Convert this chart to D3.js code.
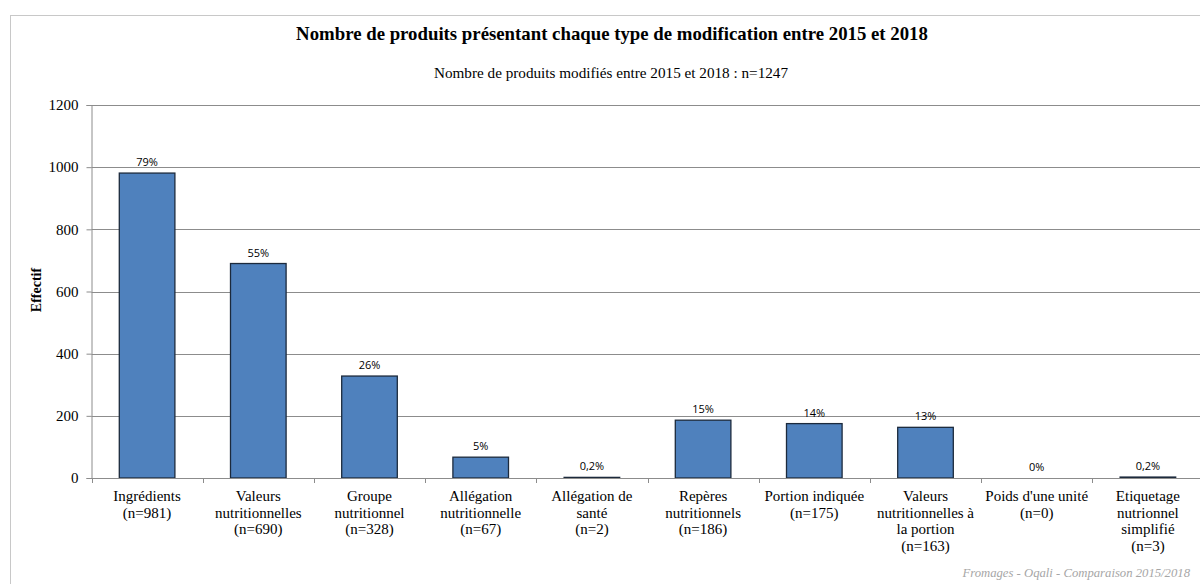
<!DOCTYPE html>
<html>
<head>
<meta charset="utf-8">
<script src="https://cdn.jsdelivr.net/npm/d3@7"></script>
<style>
  body { margin: 0; background: #fff; }
  svg text { font-family: "Liberation Serif", serif; fill: #000; }
</style>
</head>
<body>
<div id="chart-area"></div>
<script>

// Chart data
var categories = [
	["Ingrédients", "(n=981)"],
	["Valeurs", "nutritionnelles", "(n=690)"],
	["Groupe", "nutritionnel", "(n=328)"],
	["Allégation", "nutritionnelle", "(n=67)"],
	["Allégation de", "santé", "(n=2)"],
	["Repères", "nutritionnels", "(n=186)"],
	["Portion indiquée", "(n=175)"],
	["Valeurs", "nutritionnelles à", "la portion", "(n=163)"],
	["Poids d'une unité", "(n=0)"],
	["Etiquetage", "nutrionnel", "simplifié", "(n=3)"]
];
var counts = [981, 690, 328, 67, 2, 186, 175, 163, 0, 3];
var percentLabels = ["79%", "55%", "26%", "5%", "0,2%", "15%", "14%", "13%", "0%", "0,2%"];
var yTicks = [0, 200, 400, 600, 800, 1000, 1200];

// SVG Size
var width = 1200,
		height = 584;

var svg = d3.select("#chart-area").append("svg")
	.attr("width", width)
	.attr("height", height);

// chart border
svg.append("rect")
	.attr("x", 10.5)
	.attr("y", 15.5)
	.attr("width", 1200)
	.attr("height", 600)
	.attr("fill", "none")
	.attr("stroke", "#c8c8c8");

var plotLeft = 91.5,
		plotTop = 105,
		plotBottom = 478,
		bandWidth = 111.2;

var x = d3.scaleBand()
	.domain(d3.range(counts.length))
	.range([plotLeft, plotLeft + bandWidth * counts.length])
	.paddingInner(0.5)
	.paddingOuter(0.25);

var y = d3.scaleLinear()
	.domain([0, 1200])
	.range([plotBottom, plotTop]);

// gridlines
svg.append("g")
	.selectAll("line")
	.data(yTicks.slice(1))
	.enter()
	.append("line")
	.attr("x1", plotLeft)
	.attr("x2", width)
	.attr("y1", function(d) { return Math.round(y(d)) + 0.5; })
	.attr("y2", function(d) { return Math.round(y(d)) + 0.5; })
	.attr("stroke", "#8c8c8c");

// y axis
var yAxis = d3.axisLeft(y)
	.tickValues(yTicks)
	.tickSize(5)
	.tickPadding(8)
	.tickFormat(d3.format("d"));

var yG = svg.append("g")
	.attr("transform", "translate(" + plotLeft + ",0)")
	.call(yAxis);
yG.selectAll("path, line").attr("stroke", "#8c8c8c");
yG.selectAll("text")
	.style("font-family", "Liberation Serif")
	.style("font-size", "15px")
	.attr("fill", "#000");

// bars
svg.append("g")
	.selectAll("rect")
	.data(counts)
	.enter()
	.append("rect")
	.attr("x", function(d, i) { return x(i); })
	.attr("y", function(d) { return y(d); })
	.attr("width", x.bandwidth())
	.attr("height", function(d) { return plotBottom - y(d); })
	.attr("fill", "#4f81bd")
	.attr("stroke", function(d) { return d > 0 ? "#1c2a3c" : "none"; })
	.attr("stroke-width", 1.3);

// x axis line + ticks at band edges
var xG = svg.append("g");
xG.append("line")
	.attr("x1", plotLeft)
	.attr("x2", width)
	.attr("y1", plotBottom + 0.5)
	.attr("y2", plotBottom + 0.5)
	.attr("stroke", "#8c8c8c");
xG.selectAll(".tick")
	.data(d3.range(counts.length + 1))
	.enter()
	.append("line")
	.attr("x1", function(i) { return Math.round(plotLeft + i * bandWidth) + 0.5; })
	.attr("x2", function(i) { return Math.round(plotLeft + i * bandWidth) + 0.5; })
	.attr("y1", plotBottom)
	.attr("y2", plotBottom + 5)
	.attr("stroke", "#8c8c8c");

// percentage labels
svg.append("g")
	.selectAll("text")
	.data(counts)
	.enter()
	.append("text")
	.attr("x", function(d, i) { return x(i) + x.bandwidth() / 2; })
	.attr("y", function(d) { return y(d) - 7; })
	.attr("text-anchor", "middle")
	.style("font-family", "Open Sans, sans-serif")
	.style("font-size", "11px")
	.text(function(d, i) { return percentLabels[i]; });

// category labels
var catG = svg.append("g")
	.selectAll("text")
	.data(categories)
	.enter()
	.append("text")
	.attr("text-anchor", "middle")
	.style("font-size", "15px");
catG.selectAll("tspan")
	.data(function(d, i) { return d.map(function(s) { return { s: s, i: i }; }); })
	.enter()
	.append("tspan")
	.attr("x", function(d) { return x(d.i) + x.bandwidth() / 2; })
	.attr("y", function(d, j) { return 501 + j * 16.6; })
	.text(function(d) { return d.s; });

// titles
svg.append("text")
	.attr("x", 612)
	.attr("y", 40)
	.attr("text-anchor", "middle")
	.style("font-size", "18.8px")
	.style("font-weight", "bold")
	.text("Nombre de produits présentant chaque type de modification entre 2015 et 2018");

svg.append("text")
	.attr("x", 611)
	.attr("y", 78)
	.attr("text-anchor", "middle")
	.style("font-size", "15.2px")
	.text("Nombre de produits modifiés entre 2015 et 2018 : n=1247");

svg.append("text")
	.attr("transform", "translate(41,290) rotate(-90)")
	.attr("text-anchor", "middle")
	.style("font-size", "14px")
	.style("font-weight", "bold")
	.text("Effectif");

svg.append("text")
	.attr("x", 1190)
	.attr("y", 577)
	.attr("text-anchor", "end")
	.style("font-size", "12.7px")
	.style("font-style", "italic")
	.style("fill", "#a6a6a6")
	.text("Fromages - Oqali - Comparaison 2015/2018");

</script>
</body>
</html>
